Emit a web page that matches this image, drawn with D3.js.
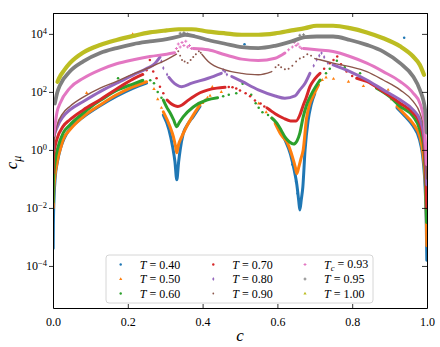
<!DOCTYPE html>
<html>
<head>
<meta charset="utf-8">
<script src="https://cdn.jsdelivr.net/npm/d3@7"></script>
<style>
  body { margin: 0; background: #fff; }
</style>
</head>
<body>
<div class="canvas"></div>
<script>
// Values: [c, log10(c_mu)]
const temps = ["0.40", "0.50", "0.60", "0.70", "0.80", "0.90", "0.93", "0.95", "1.00"];

const T040_lines = [
  [[0.0005,-3.4],[0.001,-2.6],[0.003,-1.6],[0.006,-0.95],[0.012,-0.4],[0.02,0.05],[0.03,0.4],[0.045,0.72],[0.08,1.12],[0.126,1.52],[0.17,1.85],[0.215,2.13],[0.25,2.3]],
  [[0.295,1.2],[0.31,0.7],[0.32,0.1],[0.326,-0.4],[0.331,-1.03],[0.336,-0.4],[0.34,0.0],[0.348,0.55],[0.361,0.9],[0.375,1.15],[0.393,1.5]],
  [[0.60,0.85],[0.62,0.35],[0.635,-0.15],[0.645,-0.7],[0.652,-1.2],[0.657,-1.75],[0.66,-2.07],[0.664,-1.7],[0.668,-1.28],[0.674,0.0],[0.682,1.0],[0.69,1.55],[0.70,1.95]],
  [[0.92,1.45],[0.94,1.18],[0.963,0.82],[0.98,0.35],[0.99,-0.4],[0.995,-1.3],[0.998,-2.5],[0.9995,-3.8]]
];
const T040_dots = [[0.043,1.36],[0.512,3.64],[0.939,3.87],[0.64,-0.5],[0.648,-0.9],[0.65,-1.1],[0.654,-1.5]];

const T050_lines = [
  [[0.0005,-2.0],[0.002,-1.4],[0.005,-0.92],[0.01,-0.5],[0.014,-0.23],[0.02,0.05],[0.027,0.35],[0.045,0.69],[0.081,1.15],[0.126,1.55],[0.17,1.9],[0.215,2.18],[0.25,2.35]],
  [[0.295,1.31],[0.313,0.8],[0.322,0.45],[0.328,0.1],[0.331,-0.1],[0.335,0.15],[0.344,0.45],[0.357,0.8],[0.375,1.2],[0.393,1.55]],
  [[0.594,0.92],[0.61,0.52],[0.627,0.23],[0.64,-0.23],[0.648,-0.6],[0.652,-0.82],[0.657,-0.6],[0.663,-0.3],[0.669,0.0],[0.678,1.1],[0.687,1.6],[0.695,1.84],[0.71,2.24]],
  [[0.92,1.5],[0.937,1.27],[0.963,0.9],[0.981,0.45],[0.99,-0.2],[0.995,-1.0],[0.998,-2.1],[0.9995,-3.3]]
];
const T050_dots = [[0.27,2.1],[0.28,1.75],[0.29,1.45],[0.40,1.62],[0.407,1.72],[0.413,1.8],[0.42,1.87],[0.426,2.17],[0.45,2.0],[0.55,1.6],[0.57,1.3],[0.585,1.1],
  [0.714,2.38],[0.72,2.41],[0.73,2.5],[0.75,2.45],[0.79,2.35],[0.83,2.2],[0.896,2.07],[0.905,1.75],[0.213,3.99],[0.09,1.96]];

const T060_lines = [
  [[0.0005,-1.8],[0.001,-1.15],[0.005,-0.46],[0.014,0.12],[0.027,0.58],[0.045,0.86],[0.081,1.27],[0.108,1.55],[0.126,1.7],[0.17,2.05],[0.215,2.28],[0.24,2.4]],
  [[0.295,1.72],[0.305,1.45],[0.313,1.28],[0.322,1.05],[0.331,0.8],[0.338,0.95],[0.348,1.14],[0.375,1.48],[0.411,1.72],[0.44,1.8]],
  [[0.585,1.1],[0.598,0.93],[0.61,0.68],[0.62,0.45],[0.632,0.28],[0.643,0.2],[0.652,0.3],[0.66,0.58],[0.669,1.14],[0.678,1.55],[0.69,1.9],[0.714,2.41]],
  [[0.865,2.13],[0.9,1.84],[0.928,1.5],[0.963,1.15],[0.981,0.69],[0.992,0.0],[0.996,-1.0],[0.999,-2.5]]
];
const T060_dots = [[0.26,2.4],[0.27,2.3],[0.28,2.0],[0.29,1.8],[0.455,1.85],[0.47,1.9],[0.49,1.95],[0.507,2.28],[0.53,1.9],[0.542,1.61],[0.55,1.45],[0.56,1.3],[0.575,1.2],
  [0.73,2.64],[0.74,2.8],[0.759,3.07],[0.78,2.85],[0.821,2.64],[0.85,2.3],[0.174,2.47]];

const T070_lines = [
  [[0.0005,-0.8],[0.001,-0.23],[0.01,0.35],[0.027,0.81],[0.045,1.04],[0.081,1.38],[0.126,1.73],[0.17,2.1],[0.215,2.45],[0.24,2.6]],
  [[0.305,1.72],[0.315,1.6],[0.325,1.53],[0.334,1.5],[0.345,1.55],[0.36,1.7],[0.371,1.8],[0.393,1.97],[0.415,2.07],[0.438,2.13],[0.46,2.16]],
  [[0.572,1.45],[0.594,1.25],[0.615,1.1],[0.635,1.0],[0.65,1.0],[0.66,1.2],[0.668,1.5],[0.677,1.8],[0.687,2.18],[0.7,2.45],[0.714,2.64]],
  [[0.812,2.47],[0.839,2.36],[0.883,2.01],[0.928,1.61],[0.963,1.27],[0.981,0.92],[0.992,0.23],[0.997,-0.92],[0.9995,-2.0]]
];
const T070_dots = [[0.25,2.75],[0.259,3.1],[0.268,2.7],[0.277,2.47],[0.286,2.18],[0.295,1.95],
  [0.47,2.17],[0.48,2.16],[0.49,2.12],[0.50,2.05],[0.515,1.95],[0.527,1.85],[0.54,1.7],[0.555,1.6],[0.565,1.5],
  [0.725,2.8],[0.74,2.99],[0.75,3.1],[0.76,3.22],[0.77,2.95],[0.785,2.7],[0.8,2.55]];

const T080_lines = [
  [[0.0005,0.0],[0.001,0.35],[0.01,0.75],[0.027,1.15],[0.045,1.38],[0.081,1.67],[0.126,2.01],[0.17,2.3],[0.215,2.59],[0.25,2.8],[0.27,2.95],[0.286,3.2]],
  [[0.31,2.5],[0.32,2.35],[0.331,2.24],[0.344,2.18],[0.371,2.3],[0.415,2.47],[0.45,2.64]],
  [[0.478,2.53],[0.505,2.36],[0.549,2.07],[0.594,1.86],[0.62,1.78],[0.647,1.86],[0.66,2.07],[0.674,2.3],[0.687,2.64]],
  [[0.749,2.93],[0.794,2.7],[0.839,2.41],[0.883,2.07],[0.928,1.73],[0.963,1.38],[0.981,1.04],[0.992,0.46],[0.997,-0.34],[0.9995,-1.2]]
];
const T080_dots = [[0.29,3.05],[0.295,2.82],[0.305,2.6],[0.455,2.75],[0.46,2.7],[0.465,2.6],
  [0.697,2.9],[0.705,3.11],[0.712,3.25],[0.718,3.34],[0.725,3.2],[0.735,3.0]];

const T090_lines = [
  [[0.001,-0.3],[0.003,0.23],[0.01,0.81],[0.027,1.27],[0.045,1.5],[0.081,1.82],[0.126,2.13],[0.17,2.36],[0.215,2.62],[0.259,2.85],[0.304,3.11],[0.33,3.3]],
  [[0.398,3.3],[0.415,3.05],[0.46,2.76],[0.505,2.64],[0.549,2.59],[0.585,2.7]],
  [[0.70,3.15],[0.714,3.11],[0.749,2.99],[0.794,2.87],[0.839,2.7],[0.883,2.41],[0.928,2.07],[0.963,1.67],[0.981,1.27],[0.992,0.69],[0.996,-0.23],[0.999,-1.0]]
];
const T090_dots = [[0.335,3.4],[0.34,3.25],[0.345,3.1],[0.352,3.05],[0.36,3.0],[0.368,3.1],[0.375,3.2],[0.382,3.3],[0.39,3.4],[0.395,3.35],
  [0.595,2.85],[0.603,2.93],[0.61,2.85],[0.62,2.78],[0.63,2.8],[0.64,2.9],[0.65,3.05],[0.66,3.15],[0.67,3.2],[0.68,3.3],[0.69,3.25]];

const T093_lines = [
  [[0.002,0.5],[0.011,1.32],[0.019,1.61],[0.045,2.13],[0.081,2.47],[0.126,2.76],[0.17,2.97],[0.215,3.11],[0.259,3.22],[0.304,3.3],[0.325,3.35]],
  [[0.375,3.5],[0.415,3.45],[0.46,3.28],[0.505,3.13],[0.549,3.08],[0.594,3.16],[0.62,3.34]],
  [[0.67,3.5],[0.705,3.45],[0.749,3.39],[0.794,3.22],[0.839,2.99],[0.883,2.7],[0.928,2.36],[0.963,1.96],[0.981,1.61],[0.992,1.04],[0.996,0.23],[0.999,-0.5]]
];
const T093_dots = [[0.33,3.5],[0.335,3.65],[0.34,3.55],[0.345,3.7],[0.35,3.6],[0.355,3.75],[0.36,3.55],[0.365,3.6],[0.37,3.5],
  [0.63,3.45],[0.64,3.55],[0.645,3.7],[0.65,3.6],[0.655,3.65],[0.66,3.55],[0.665,3.5]];

const T095_lines = [
  [[0.005,1.6],[0.011,1.96],[0.019,2.24],[0.045,2.7],[0.081,3.05],[0.126,3.34],[0.17,3.51],[0.215,3.65],[0.259,3.74],[0.304,3.82],[0.336,3.91],[0.353,3.97],[0.38,3.91],[0.415,3.79],[0.46,3.66],[0.505,3.54],[0.549,3.51],[0.594,3.59],[0.638,3.74],[0.674,3.89],[0.705,3.91],[0.749,3.91],[0.794,3.79],[0.839,3.62],[0.883,3.39],[0.928,2.99],[0.963,2.53],[0.981,2.07],[0.995,1.38],[0.999,0.6]]
];
const T095_dots = [[0.34,4.02],[0.35,4.04],[0.36,4.0],[0.66,3.95],[0.67,3.97]];

const T100_lines = [
  [[0.012,2.35],[0.016,2.47],[0.03,2.75],[0.045,2.99],[0.081,3.36],[0.126,3.62],[0.17,3.79],[0.215,3.93],[0.259,4.05],[0.304,4.12],[0.336,4.16],[0.371,4.16],[0.415,4.08],[0.46,4.02],[0.505,3.97],[0.549,3.97],[0.594,4.02],[0.638,4.12],[0.674,4.2],[0.705,4.28],[0.749,4.28],[0.794,4.2],[0.839,4.05],[0.883,3.85],[0.928,3.57],[0.963,3.22],[0.981,2.93],[0.992,2.59]]
];
const T100_dots = [];

const xTicks = [0, 0.2, 0.4, 0.6, 0.8, 1.0];
const yTickExps = [-4, -2, 0, 2, 4];

const allLines = [T040_lines, T050_lines, T060_lines, T070_lines, T080_lines, T090_lines, T093_lines, T095_lines, T100_lines];
const allDots = [T040_dots, T050_dots, T060_dots, T070_dots, T080_dots, T090_dots, T093_dots, T095_dots, T100_dots];

// styling
const colours = ["#1f77b4", "#ff7f0e", "#2ca02c", "#d62728", "#9467bd", "#8c564b", "#e377c2", "#7f7f7f", "#bcbd22"];
const widths = [3, 3, 3, 3, 3, 1.4, 3, 3.8, 4.2];
const symbols = [d3.symbolCircle, d3.symbolTriangle, d3.symbolCircle, d3.symbolCircle, d3.symbolDiamond, d3.symbolCircle, d3.symbolCross, d3.symbolCross, d3.symbolTriangle];
const serif = '"Liberation Serif", "Times New Roman", serif';

const dims = { width: 440, height: 347 };
const plot = { left: 53, right: 427, top: 13, bottom: 308 };

const svg = d3.select(".canvas").append("svg")
  .attr("width", dims.width)
  .attr("height", dims.height)
  .style("font-family", serif);

const x = d3.scaleLinear().domain([0, 1]).range([plot.left, plot.right]);
const y = d3.scaleLog().domain([Math.pow(10, -5.45), Math.pow(10, 4.72)]).range([plot.bottom, plot.top]);

svg.append("clipPath").attr("id", "clip")
  .append("rect")
  .attr("x", plot.left).attr("y", plot.top)
  .attr("width", plot.right - plot.left).attr("height", plot.bottom - plot.top);

const graph = svg.append("g").attr("clip-path", "url(#clip)");

const line = d3.line()
  .x(d => x(d[0]))
  .y(d => y(Math.pow(10, d[1])))
  .curve(d3.curveMonotoneX);

allLines.forEach((segs, i) => {
  const g = graph.append("g");
  g.selectAll("path.seg")
    .data(segs)
    .join("path")
    .attr("class", "seg")
    .attr("d", line)
    .attr("fill", "none")
    .attr("stroke", colours[i])
    .attr("stroke-width", widths[i])
    .attr("stroke-linecap", "round")
    .attr("stroke-linejoin", "round");
  g.selectAll("path.dot")
    .data(allDots[i])
    .join("path")
    .attr("class", "dot")
    .attr("d", d3.symbol(symbols[i], i === 5 ? 3 : 5))
    .attr("transform", d => `translate(${x(d[0])},${y(Math.pow(10, d[1]))})`)
    .attr("fill", colours[i]);
});

// axes
const xAxisBottom = svg.append("g").attr("transform", `translate(0,${plot.bottom})`);
xAxisBottom.call(d3.axisBottom(x).tickValues(d3.range(0, 1.001, 0.05)).tickSize(-2).tickFormat("").tickSizeOuter(0));
xAxisBottom.call(d3.axisBottom(x).tickValues(xTicks).tickSize(-4).tickSizeOuter(0).tickFormat(d3.format(".1f")));
xAxisBottom.selectAll("text").attr("y", 9).style("font-size", "12px");

const xAxisTop = svg.append("g").attr("transform", `translate(0,${plot.top})`);
xAxisTop.call(d3.axisTop(x).tickValues(d3.range(0, 1.001, 0.05)).tickSize(-2).tickFormat("").tickSizeOuter(0));
xAxisTop.call(d3.axisTop(x).tickValues(xTicks).tickSize(-4).tickFormat("").tickSizeOuter(0));

const yTicks = yTickExps.map(e => Math.pow(10, e));
const yAxisLeft = svg.append("g").attr("transform", `translate(${plot.left},0)`);
yAxisLeft.call(d3.axisLeft(y).tickValues(yTicks).tickSize(4).tickFormat("").tickSizeOuter(0));
yAxisLeft.selectAll(".tick").each(function (d, i) {
  const t = d3.select(this).append("text")
    .attr("x", -6).attr("dy", "0.32em")
    .attr("text-anchor", "end")
    .attr("fill", "#000")
    .style("font-size", "12px");
  t.append("tspan").text("10");
  t.append("tspan")
    .attr("dy", "-0.45em")
    .style("font-size", "8.5px")
    .text(String(yTickExps[i]).replace("-", "\u2212"));
});

const yAxisRight = svg.append("g").attr("transform", `translate(${plot.right},0)`);
yAxisRight.call(d3.axisRight(y).tickValues(yTicks).tickSize(-5).tickFormat("").tickSizeOuter(0));

svg.selectAll(".domain").attr("stroke", "#000").attr("stroke-width", 1);
svg.selectAll(".tick line").attr("stroke", "#000").attr("stroke-width", 0.8);
svg.selectAll("g").attr("font-family", null);

// axis labels
svg.append("text")
  .attr("x", (plot.left + plot.right) / 2).attr("y", 341)
  .attr("text-anchor", "middle")
  .style("font-size", "17px").style("font-style", "italic")
  .text("c");

const yLabel = svg.append("text")
  .attr("transform", `translate(17,${(plot.top + plot.bottom) / 2 + 2}) rotate(-90)`)
  .attr("text-anchor", "middle")
  .style("font-size", "17px").style("font-style", "italic");
yLabel.append("tspan").text("c");
yLabel.append("tspan").attr("dy", "0.3em").style("font-size", "12px").text("\u03bc");

// legend
const legend = svg.append("g");
legend.append("rect")
  .attr("x", 106).attr("y", 255).attr("width", 267).attr("height", 48)
  .attr("rx", 3)
  .attr("fill", "#fff").attr("fill-opacity", 0.85)
  .attr("stroke", "#cccccc").attr("stroke-width", 0.8);

const colX = [120.7, 213.3, 305];
const rowY = [264.5, 279, 293.5];
temps.forEach((t, i) => {
  const cx = colX[Math.floor(i / 3)], cy = rowY[i % 3];
  legend.append("path")
    .attr("d", d3.symbol(symbols[i], i === 5 ? 2.5 : 4.5))
    .attr("transform", `translate(${cx},${cy})`)
    .attr("fill", colours[i]);
  const txt = legend.append("text")
    .attr("x", cx + 19).attr("y", cy).attr("dy", "0.35em")
    .style("font-size", "12px");
  txt.append("tspan").style("font-style", "italic").text("T");
  if (t === "0.93") {
    txt.append("tspan").attr("dy", "0.3em").style("font-size", "8.5px").style("font-style", "italic").text("c");
    txt.append("tspan").attr("dy", "-0.3em").text(" = " + t);
  } else {
    txt.append("tspan").text(" = " + t);
  }
});
</script>
</body>
</html>
